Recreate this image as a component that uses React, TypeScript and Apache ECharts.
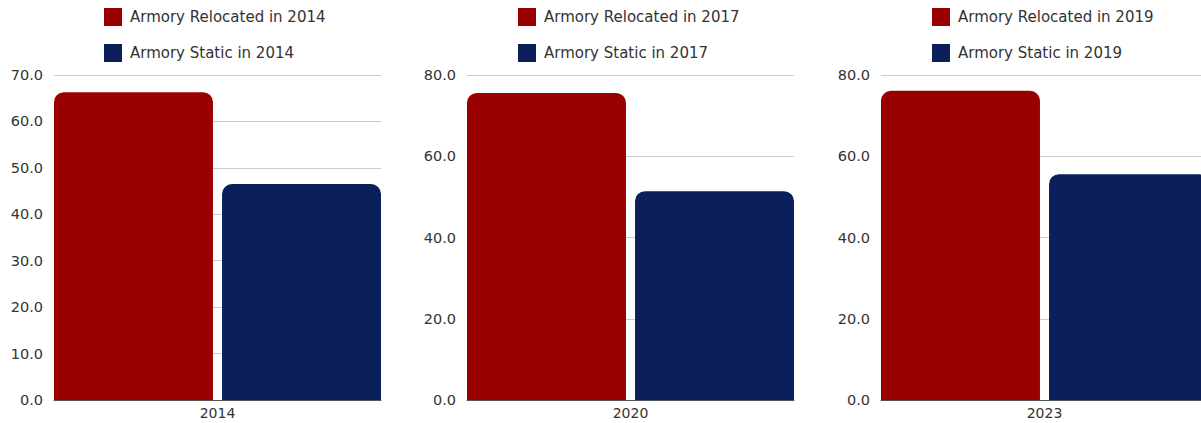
import React, { useEffect, useRef } from "react";
import * as echarts from "echarts";

const panelCategories = ["2014", "2020", "2023"];
const relocatedNames = ["Armory Relocated in 2014", "Armory Relocated in 2017", "Armory Relocated in 2019"];
const staticNames = ["Armory Static in 2014", "Armory Static in 2017", "Armory Static in 2019"];
const relocatedValues = [66.3, 75.6, 76.1];
const staticValues = [46.5, 51.4, 55.6];
const axisMax = [70, 80, 80];
const axisInterval = [10, 20, 20];

const RED = "#990000";
const NAVY = "#0b1f5b";
const FONT = "'DejaVu Sans', sans-serif";

const gridLefts = [54, 467, 881];
const legendLefts = [104, 518, 932];

export default function App() {
  const ref = useRef<HTMLDivElement>(null);
  useEffect(() => {
    if (!ref.current) return;
    const chart = echarts.init(ref.current, undefined, { renderer: "svg" });
    const grids: any[] = [];
    const xAxes: any[] = [];
    const yAxes: any[] = [];
    const legends: any[] = [];
    const series: any[] = [];
    for (let i = 0; i < 3; i++) {
      grids.push({ left: gridLefts[i], width: 327, top: 75, height: 325, containLabel: false });
      xAxes.push({
        type: "category",
        gridIndex: i,
        data: [panelCategories[i]],
        axisTick: { show: false },
        axisLine: { show: true, lineStyle: { color: "#555", width: 1 } },
        axisLabel: { color: "#333", fontSize: 14, fontFamily: FONT, margin: 6 },
      });
      yAxes.push({
        type: "value",
        gridIndex: i,
        min: 0,
        max: axisMax[i],
        interval: axisInterval[i],
        axisLine: { show: false },
        axisTick: { show: false },
        splitLine: { lineStyle: { color: "#cccccc", width: 1 } },
        axisLabel: {
          color: "#333",
          fontSize: 14.5,
          fontFamily: FONT,
          margin: 11,
          formatter: (v: number) => v.toFixed(1),
        },
      });
      legends.push({
        orient: "vertical",
        left: legendLefts[i],
        top: 8,
        padding: 0,
        itemWidth: 18,
        itemHeight: 18,
        itemGap: 18,
        icon: "rect",
        data: [relocatedNames[i], staticNames[i]],
        textStyle: { color: "#333", fontSize: 15, fontFamily: FONT, padding: [0, 0, 0, 3] },
      });
      series.push({
        type: "bar",
        name: relocatedNames[i],
        xAxisIndex: i,
        yAxisIndex: i,
        data: [relocatedValues[i]],
        barCategoryGap: 0,
        barGap: "5.7%",
        itemStyle: { color: RED, borderRadius: [10, 10, 0, 0] },
      });
      series.push({
        type: "bar",
        name: staticNames[i],
        xAxisIndex: i,
        yAxisIndex: i,
        data: [staticValues[i]],
        barCategoryGap: 0,
        barGap: "5.7%",
        itemStyle: { color: NAVY, borderRadius: [10, 10, 0, 0] },
      });
    }
    chart.setOption({
      animation: false,
      backgroundColor: "#ffffff",
      grid: grids,
      xAxis: xAxes,
      yAxis: yAxes,
      legend: legends,
      series,
    });
    return () => chart.dispose();
  }, []);
  return (
    <div style={{ position: "absolute", left: 0, top: 0, width: 1201, height: 423, overflow: "hidden" }}>
      <div ref={ref} style={{ width: 1215, height: 423 }} />
    </div>
  );
}
